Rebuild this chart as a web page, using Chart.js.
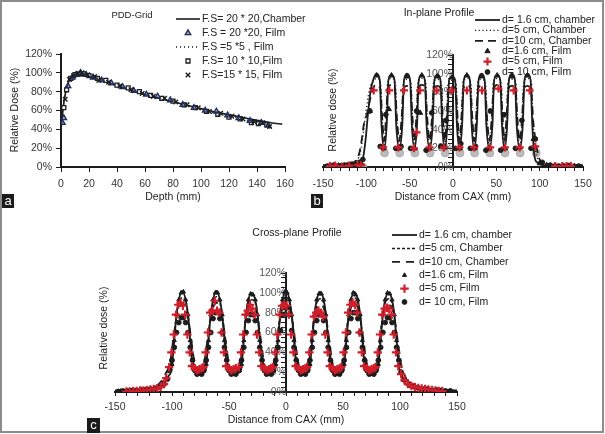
<!DOCTYPE html>
<html><head><meta charset="utf-8">
<script src="https://cdn.jsdelivr.net/npm/chart.js@4/dist/chart.umd.min.js"></script>
<style>
html,body{margin:0;padding:0;background:#fff;}
#fig{position:relative;width:605px;height:434px;overflow:hidden;font-family:"Liberation Sans",Arial,sans-serif;}
#frame{position:absolute;left:0;top:0;width:604px;height:433px;box-sizing:border-box;border:2px solid #8c8c8c;}
canvas{position:absolute;}
.tag{position:absolute;background:#1b1b1b;color:#fff;font-size:13px;line-height:14px;text-align:center;}
</style></head><body>
<div id="fig">
<div id="frame"></div>
<canvas id="ca" width="310" height="212" style="left:0;top:0"></canvas>
<canvas id="cb" width="298" height="212" style="left:305px;top:0"></canvas>
<canvas id="cc" width="440" height="220" style="left:95px;top:212px"></canvas>
<div class="tag" style="left:2px;top:194px;width:12px;height:14px">a</div>
<div class="tag" style="left:311px;top:194px;width:12px;height:14px">b</div>
<div class="tag" style="left:87px;top:418px;width:13px;height:15px">c</div>
</div>
<script>
// ---------- Panel a : PDD-Grid ----------
const pddDepth   = [0,1,2,3,4,6,8,10,12,14,16,20,25,30,40,50,60,70,80,90,100,110,120,130,140,150,158];
const pddChamber = [40,55,68,77,84,92,96,98.5,99.6,100,99.5,96.5,94,91.5,86.5,81.5,77,73,69.5,65.5,62,58.5,55.5,52.5,49.5,47,45.5];
const film20X = [1,2,5,8,11,14,18,23,29,36,44,52,61,69,78,87,95,103,111,119,127,135,143,148];
const film20Y = [47,52,86,95,98,100,98,95,92,89,85,81,77,75,71,66,63,60,59,55,52,49,47,44];
const film5X  = [1,3,6,9,12,16,21,26,32,39,47,55,63,71,79,87,95,103,111,119,127,135,143,149];
const film5Y  = [58,76,93,97,99,99,97,94,91,88,84,80,76,73,70,66,63,60,57,55,52,49,47,41];
const film10X = [2,4,7,10,13,16,20,26,32,40,48,56,64,72,80,88,96,104,112,120,128,136,141,147];
const film10Y = [63,82,94,98,99,99,97,94,92,87,84,80,76,73,70,66,63,59,56,53,51,47,46,45];
const film15X = [3,6,9,12,15,19,24,27,34,42,50,58,66,74,82,90,98,106,114,122,130,138,144,149];
const film15Y = [72,93,97,99,100,98,96,92,90,86,82,78,75,73,69,66,63,59,57,54,51,48,47,43];
const pddLabels = ['F.S= 20 * 20,Chamber','F.S = 20 *20, Film','F.S =5 *5 , Film','F.S= 10 * 10,Film','F.S=15 * 15, Film'];

// ---------- Panel b : In-plane profile ----------
const inX1 = [-150,-140,-130,-120,-112,-107,-104,-101,-98,-95,-91.5,-88,-84.5,-82.5,-79.5,
 -76.5,-74.5,-71,-67.5,-65.5,-62,
 -58.5,-56.5,-53,-49.5,-47.5,-44.5,
 -41.5,-39.5,-36,-32.5,-30.5,-27,
 -23.5,-21.5,-18,-14.5,-12.5,-9.5,
 -6.5,-4.5,-1,2.5,4.5,7.5,
 10.5,12.5,16,19.5,21.5,24.5,
 27.5,29.5,33,36.5,38.5,42,
 45.5,47.5,51,54.5,56.5,59.5,
 62.5,64.5,68,71.5,73.5,77,
 80.5,82.5,86,89.5,91.5,94,97,100,104,110,120,130,140,150];
const inY1 = [1.5,2,2.5,3,4,5,9,28,58,82,95,100,93,45,19,
 45,93,99,93,45,19,
 45,93,100,93,45,19,
 45,93,99,93,45,19,
 45,93,99,93,45,19,
 45,93,97,93,45,19,
 45,93,99,93,45,19,
 45,93,100,93,45,19,
 45,93,99,93,45,19,
 45,93,100,93,45,19,
 45,93,100,93,45,12,5,3,2,1.5,1.5,1.5,1.5,1.5];
const inX2 = [-150,-140,-130,-120,-113,-109,-106,-103,-100,-96,-92,-88,-83.5,-81.5,-79.5,
 -77.5,-75.5,-71,-66.5,-64.5,-62,
 -59.5,-57.5,-53,-48.5,-46.5,-44.5,
 -42.5,-40.5,-36,-31.5,-29.5,-27,
 -24.5,-22.5,-18,-13.5,-11.5,-9.5,
 -7.5,-5.5,-1,3.5,5.5,7.5,
 9.5,11.5,16,20.5,22.5,24.5,
 26.5,28.5,33,37.5,39.5,42,
 44.5,46.5,51,55.5,57.5,59.5,
 61.5,63.5,68,72.5,74.5,77,
 79.5,81.5,86,90.5,92.5,95,98,101,105,110,120,130,140,150];
const inY2 = [1.5,2,3,4,6,10,20,40,62,84,92,95,90,45,22,
 45,90,95,90,45,22,
 45,90,94,90,45,22,
 45,90,95,90,45,22,
 45,90,94,90,45,22,
 45,90,93,90,45,22,
 45,90,95,90,45,22,
 45,90,94,90,45,22,
 45,90,95,90,45,22,
 45,90,94,90,45,22,
 45,90,95,90,45,20,8,4,2.5,2,2,2,2,2];
const inX3 = [-150,-140,-130,-120,-113,-109,-106,-103,-99,-95,-92,-88,-84,-81.5,-79.5,
 -77.5,-75,-71,-67,-64.5,-62,
 -59.5,-57,-53,-49,-46.5,-44.5,
 -42.5,-40,-36,-32,-29.5,-27,
 -24.5,-22,-18,-14,-11.5,-9.5,
 -7.5,-5,-1,3,5.5,7.5,
 9.5,12,16,20,22.5,24.5,
 26.5,29,33,37,39.5,42,
 44.5,47,51,55,57.5,59.5,
 61.5,64,68,72,74.5,77,
 79.5,82,86,90,92.5,95,98,101,104,108,115,125,135,150];
const inY3 = [2,2.5,3,4,6,12,25,45,58,75,85,88,84,50,28,
 50,84,88,84,50,28,
 50,84,87,84,50,28,
 50,84,88,84,50,28,
 50,84,87,84,50,28,
 50,84,86,84,50,28,
 50,84,88,84,50,28,
 50,84,87,84,50,28,
 50,84,88,84,50,28,
 50,84,87,84,50,28,
 50,84,87,84,50,30,14,6,3,2.5,2,2,2,2];
const inTriX = [-142,-132,-122,-112,-106,-96,-88,-80,-74,-71,-62,-53,-44,-38,-36,-27,-18,-9,-1,8,16,25,33,42,51,60,68,77,86,93,100,108,118,128,140];
const inTriY = [1,1.5,2,2.5,4,60,98,20,62,98,20,97,20,58,98,20,97,21,96,20,98,20,97,20,98,20,97,21,98,30,4,2,1.5,1,1];
const inRedX = [-142,-136,-128,-120,-110,-106,-91.5,-80.5,-73.5,-63,-56.5,-45,-42,-38,-27,-19,-10.5,-1.5,7.5,16,24.5,33.5,43,52.5,60,70,77,88.5,95,118,126,131,136];
const inRedY = [1,1.5,0.5,1.5,2,2,82,21,82,21,82,20,37,82,21,82,21,82,21,82,21,82,21,84,21,82,21,82,22,1,1,1,1];
const inDotX = [-145,-138,-130,-125,-117,-108,-104,-96,-84,-77.5,-66,-60,-49,-42,-31,-24.5,-14,-8,3,9,20,26,38,43,55,59,72,79.5,90,95,103,112,122,133,145];
const inDotY = [1,2,1,2,3,5,8,60,22,56,20,22,20,60,18,58,22,50,20,25,20,22,18,60,18,56,20,50,20,30,5,2,1,1.5,1];
const inGrayX = [-125,-104,-79,-61.5,-44,-26.5,-9,8,25,42.5,60,77.5,96,114,135];
const inGrayY = [0,0,15,15,15,15,15,15,15,15,15,15,15,0,0];

// ---------- Panel c : Cross-plane profile ----------
const crX1 = [-150,-140,-130,-120,-112,-108,-105,-102.5,
 -101,-99.5,-98,-96,-94,-91,-88,-86,-84,-82.5,-81,-76,
 -71,-69.5,-68,-66,-64,-61,-58,-56,-54,-52.5,-51,-45.5,
 -40,-38.5,-37,-35,-33,-30,-27,-25,-23,-21.5,-20,-15,
 -10,-8.5,-7,-5,-3,0,3,5,7,8.5,10,15,
 20,21.5,23,25,27,30,33,35,37,38.5,40,45,
 50,51.5,53,55,57,60,63,65,67,68.5,70,75,
 80,81.5,83,85,87,90,93,95,97,98.5,100,102.5,105,109,115,125,135,145,150];
const crY1 = [1,1.5,2,3,5,8,12,17,
 20,32,52,78,93,102,93,78,52,32,20,19,
 20,32,52,78,93,102,93,78,52,32,20,19,
 20,32,52,78,93,100,93,78,52,32,20,19,
 20,32,52,78,93,103,93,78,52,32,20,19,
 20,32,52,78,93,101,93,78,52,32,20,19,
 20,32,52,78,93,101,93,78,52,32,20,19,
 20,32,52,78,93,100,93,78,52,32,20,13,8,5,3,2,1.5,1,1];
const crX2 = [-150,-140,-130,-120,-113,-109,-106,-104,
 -102,-100.5,-98.5,-96.5,-94,-91,-88,-85.5,-83.5,-81.5,-80,-76,
 -72,-70.5,-68.5,-66.5,-64,-61,-58,-55.5,-53.5,-51.5,-50,-45.5,
 -41,-39.5,-37.5,-35.5,-33,-30,-27,-24.5,-22.5,-20.5,-19,-15,
 -11,-9.5,-7.5,-5.5,-3,0,3,5.5,7.5,9.5,11,15,
 19,20.5,22.5,24.5,27,30,33,35.5,37.5,39.5,41,45,
 49,50.5,52.5,54.5,57,60,63,65.5,67.5,69.5,71,75,
 79,80.5,82.5,84.5,87,90,93,95.5,97.5,99.5,101,103.5,106,110,116,125,135,145,150];
const crY2 = [1,1.5,2,3,5,9,14,19,
 22,33,52,75,90,95,90,75,52,33,22,21,
 22,33,52,75,90,96,90,75,52,33,22,21,
 22,33,52,75,90,93,90,75,52,33,22,21,
 22,33,52,75,90,96,90,75,52,33,22,21,
 22,33,52,75,90,94,90,75,52,33,22,21,
 22,33,52,75,90,95,90,75,52,33,22,21,
 22,33,52,75,90,94,90,75,52,33,20,14,9,6,4,3,2,1.5,1];
const crX3 = [-150,-140,-130,-120,-114,-110,-107,-105,
 -103,-101,-99,-96.5,-94,-91,-88,-85.5,-83,-81,-79,-76,
 -73,-71,-69,-66.5,-64,-61,-58,-55.5,-53,-51,-49,-45.5,
 -42,-40,-38,-35.5,-33,-30,-27,-24.5,-22,-20,-18,-15,
 -12,-10,-8,-5.5,-3,0,3,5.5,8,10,12,15,
 18,20,22,24.5,27,30,33,35.5,38,40,42,45,
 48,50,52,54.5,57,60,63,65.5,68,70,72,75,
 78,80,82,84.5,87,90,93,95.5,98,100,102,104.5,107,111,117,125,135,145,150];
const crY3 = [1.5,2,3,4,6,10,15,20,
 24,35,52,72,85,89,85,72,52,35,24,23,
 24,35,52,72,85,90,85,72,52,35,24,23,
 24,35,52,72,85,88,85,72,52,35,24,23,
 24,35,52,72,85,90,85,72,52,35,24,23,
 24,35,52,72,85,88,85,72,52,35,24,23,
 24,35,52,72,85,89,85,72,52,35,24,23,
 24,35,52,72,85,88,85,72,52,35,22,16,10,7,5,3.5,2.5,2,1.5];
const crTriX = [-145,-135,-125,-115,-108,
 -100,-98,-96,-94,-92,-90,-88,-86,-84,-82,-78,-74,
 -70,-68,-66,-64,-62,-60,-58,-56,-54,-52,-48,-44,
 -39,-37,-35,-33,-31,-29,-27,-25,-23,-21,-17,-13,
 -9,-7,-5,-3,-1,1,3,5,7,9,13,17,
 21,23,25,27,29,31,33,35,37,39,43,47,
 51,53,55,57,59,61,63,65,67,69,73,77,
 81,83,85,87,89,91,93,95,97,99,103,108,115,125,135,145];
const crTriY = [1,1.5,2.5,4,7,
 28,52,78,93,100,101,93,78,52,28,19,20,
 28,52,78,93,100,100,93,78,52,28,19,20,
 28,52,78,93,99,98,93,78,52,28,19,20,
 28,52,78,93,101,100,93,78,52,28,19,20,
 28,52,78,93,99,99,93,78,52,28,19,20,
 28,52,78,93,100,98,93,78,52,28,19,20,
 28,52,78,93,100,99,93,78,52,28,12,6,4,2.5,1.5,1];
const crRedX = [-140,-137,-134,-131,-128,-125,-122,-119,-116,-113,-110,-107,-105,
 -102.5,-100.5,-98.5,-96.5,-94.5,-92.5,-90.5,-88.5,-86.5,-84.5,-82.5,-80,-78,-76,-74,
 -72.5,-70.5,-68.5,-66.5,-64.5,-62.5,-60.5,-58.5,-56.5,-54.5,-52.5,-50,-48,-46,-44,
 -41.5,-39.5,-37.5,-35.5,-33.5,-31.5,-29.5,-27.5,-25.5,-23.5,-21.5,-19,-17,-15,-13,
 -11.5,-9.5,-7.5,-5.5,-3.5,-1.5,0.5,2.5,4.5,6.5,8.5,11,13,15,17,
 18.5,20.5,22.5,24.5,26.5,28.5,30.5,32.5,34.5,36.5,38.5,41,43,45,47,
 48.5,50.5,52.5,54.5,56.5,58.5,60.5,62.5,64.5,66.5,68.5,71,73,75,77,
 78.5,80.5,82.5,84.5,86.5,88.5,90.5,92.5,94.5,96.5,98.5,101,104,107,110,113,116,119,122,125,128,131,134,137];
const crRedY = [0.5,0.5,1,1,1.5,1.5,2,2.5,3,3.5,5,8,14,
 25,40,58,78,88,90,87,78,58,40,26,24,22,23,24,
 25,40,60,80,82,92,82,80,60,40,26,24,22,23,24,
 25,40,58,78,82,88,84,78,58,40,26,24,22,23,24,
 25,40,58,78,87,88,87,78,58,40,26,24,22,23,24,
 25,40,58,76,80,82,80,76,58,40,26,24,22,23,24,
 25,40,60,80,88,90,88,80,60,40,26,24,22,23,24,
 25,40,58,78,84,85,84,78,58,40,26,18,12,8,6,5,4,3.5,3,2.5,2,1.5,1,1];
const crDotX = [-147,-143,-139,-135,-131,-127,-123,-119,-115,-111,-107,-104,
 -102,-100,-98,-96,-94,-92,-90,-88,-86,-84,-82,-80,-78,-76,-74,
 -72,-70,-68,-66,-64,-62,-60,-58,-56,-54,-52,-50,-48,-46,-44,
 -41,-39,-37,-35,-33,-31,-29,-27,-25,-23,-21,-19,-17,-15,-13,
 -11,-9,-7,-5,-3,-1,1,3,5,7,9,11,13,15,17,
 19,21,23,25,27,29,31,33,35,37,39,41,43,45,47,
 49,51,53,55,57,59,61,63,65,67,69,71,73,75,77,
 79,81,83,85,87,89,91,93,95,97,99,101,104,108,112,116,120,124,128,132,136,140,144];
const crDotY = [0.5,1,1,1.5,1.5,2,2,3,3.5,5,8,13,
 22,32,45,60,70,75,75,70,60,45,32,22,18,19,18,
 22,32,45,60,74,80,80,74,60,45,32,22,18,19,18,
 22,32,45,60,72,78,78,72,60,45,32,22,18,19,18,
 22,32,45,62,78,85,85,78,62,45,32,22,18,19,18,
 22,32,45,60,72,78,78,72,60,45,32,22,18,19,18,
 22,32,45,60,74,80,80,74,60,45,32,22,18,19,18,
 22,32,45,60,70,75,75,70,60,45,32,20,12,8,6,4,3,3,2,2,1.5,1,1];
const profLabels = ['d= 1.6 cm, chamber','d=5 cm, Chamber','d=10 cm, Chamber','d=1.6 cm, Film','d=5 cm, Film','d= 10 cm, Film'];

const yTicksPDD = [0,20,40,60,80,100,120];

// ---------- helpers ----------
const FONT = '"Liberation Sans", Arial, Helvetica, sans-serif';
Chart.defaults.font.family = FONT;
Chart.defaults.font.size = 10.5;
Chart.defaults.color = '#333';
Chart.defaults.animation = false;
const pts = (xs, ys) => xs.map((x, i) => ({x: x, y: ys[i]}));
const RED = '#d01f2a', INK = '#1c1c1c';

function lineDS(label, xs, ys, dash, width, order) {
  return {label, data: pts(xs, ys), showLine: true, borderColor: INK, borderWidth: width,
    borderDash: dash, pointRadius: 0, pointHoverRadius: 0, fill: false,
    cubicInterpolationMode: 'monotone', order};
}
function markDS(label, xs, ys, style, r, fill, stroke, bw, order) {
  return {label, data: pts(xs, ys), showLine: false, pointStyle: style, pointRadius: r,
    pointBackgroundColor: fill, pointBorderColor: stroke, pointBorderWidth: bw,
    backgroundColor: fill, borderColor: stroke, order};
}

const overlay = {
  id: 'overlay',
  afterDraw(chart, args, o) {
    const ctx = chart.ctx;
    ctx.save();
    ctx.textBaseline = 'middle';
    ctx.fillStyle = '#222';
    ctx.font = (o.titleSize || 10.5) + 'px ' + FONT;
    ctx.textAlign = 'center';
    ctx.fillText(o.title, o.titleX, o.titleY);
    ctx.save();
    ctx.translate(o.yTitleX, o.yTitleY);
    ctx.rotate(-Math.PI / 2);
    ctx.font = '10.5px ' + FONT;
    ctx.fillText(o.yTitle, 0, 0);
    ctx.restore();
    ctx.font = '10.5px ' + FONT;
    let row = 0;
    chart.data.datasets.forEach(ds => {
      if (!ds.label) return;
      const y = o.legY + row * o.legDy; row++;
      const x0 = o.legX, w = o.legW;
      ctx.save();
      if (ds.showLine) {
        ctx.strokeStyle = ds.borderColor; ctx.lineWidth = ds.borderWidth;
        ctx.setLineDash(ds.borderDash || []);
        ctx.beginPath(); ctx.moveTo(x0, y); ctx.lineTo(x0 + w, y); ctx.stroke();
      } else {
        ctx.fillStyle = ds.pointBackgroundColor; ctx.strokeStyle = ds.pointBorderColor;
        ctx.lineWidth = ds.pointBorderWidth; ctx.setLineDash([]);
        Chart.helpers.drawPoint(ctx, {pointStyle: ds.pointStyle, radius: ds.pointRadius,
          borderWidth: ds.pointBorderWidth, rotation: 0}, x0 + w / 2, y);
      }
      ctx.restore();
      ctx.fillStyle = '#222'; ctx.textAlign = 'left';
      ctx.fillText(ds.label, x0 + w + 2, y);
    });
    ctx.restore();
  }
};

function profileScales(tl, pad, titlePadB, xH) {
  return {
    x: {type: 'linear', min: -150, max: 150,
      ticks: {stepSize: 10, autoSkip: false, maxRotation: 0, padding: pad, color: '#333',
        callback: v => (v % 50 === 0 ? String(v) : '')},
      grid: {drawOnChartArea: false, drawTicks: true, tickLength: tl, color: INK, lineWidth: 1},
      border: {color: INK, width: 2},
      title: {display: true, text: 'Distance from CAX (mm)', color: '#222', font: {size: 10.5}, padding: {top: 0, bottom: titlePadB}},
      afterFit(s) { s.height = xH; }},
    y: {type: 'linear', min: 0, max: 120, position: {x: 0},
      ticks: {stepSize: 5, autoSkip: false, padding: 4, color: '#555',
        callback: v => (v % 20 === 0 ? v + '%' : '')},
      grid: {drawOnChartArea: false, drawTicks: true, tickLength: 4, color: INK, lineWidth: 1},
      border: {color: INK, width: 2}}
  };
}

// ---------- Chart a ----------
new Chart(document.getElementById('ca'), {
  type: 'scatter',
  data: {datasets: [
    lineDS(pddLabels[0], pddDepth, pddChamber, [], 1.6, 5),
    markDS(pddLabels[1], film20X, film20Y, 'triangle', 3.2, 'rgba(70,90,150,0.55)', '#1d2a5a', 1.3, 2),
    lineDS(pddLabels[2], film5X, film5Y, [1, 3], 1.5, 4),
    markDS(pddLabels[3], film10X, film10Y, 'rect', 2.8, '#ffffff', INK, 1.3, 3),
    markDS(pddLabels[4], film15X, film15Y, 'crossRot', 3.2, INK, INK, 1.4, 1)
  ]},
  options: {
    responsive: false, animation: false,
    layout: {padding: {left: 0, top: 54, right: 25, bottom: 0}},
    plugins: {legend: {display: false}, tooltip: {enabled: false},
      overlay: {title: 'PDD-Grid', titleSize: 9.5, titleX: 132, titleY: 15,
        yTitle: 'Relative Dose (%)', yTitleX: 15, yTitleY: 110,
        legX: 176, legW: 24, legY: 19, legDy: 14}},
    scales: {
      x: {type: 'linear', min: 0, max: 160,
        ticks: {stepSize: 20, padding: 6, color: '#333', maxRotation: 0},
        grid: {drawOnChartArea: false, tickLength: 5, color: INK},
        border: {color: INK, width: 2, dash: [2, 2]},
        title: {display: true, text: 'Depth (mm)', color: '#222', font: {size: 10.5}, padding: {top: 0, bottom: 9}},
        afterFit(s) { s.height = 45; }},
      y: {type: 'linear', min: 0, max: 120,
        afterBuildTicks(s) { s.ticks = yTicksPDD.map(v => ({value: v})); },
        ticks: {padding: 4, color: '#333', callback: v => v + '%'},
        grid: {drawOnChartArea: false, tickLength: 5, color: INK},
        border: {color: INK, width: 2},
        afterFit(s) { s.width = 61; }}
    }
  },
  plugins: [overlay]
});

// ---------- Chart b ----------
new Chart(document.getElementById('cb'), {
  type: 'scatter',
  data: {datasets: [
    lineDS(profLabels[0], inX1, inY1, [], 1.8, 6),
    lineDS(profLabels[1], inX2, inY2, [1.2, 2.5], 1.4, 7),
    lineDS(profLabels[2], inX3, inY3, [8, 5], 1.8, 8),
    markDS(profLabels[3], inTriX, inTriY, 'triangle', 3, INK, INK, 1, 3),
    markDS(profLabels[4], inRedX, inRedY, 'cross', 4, RED, RED, 2.2, 1),
    markDS(profLabels[5], inDotX, inDotY, 'circle', 2.4, INK, INK, 1, 2),
    markDS('', inGrayX, inGrayY, 'circle', 4, 'rgba(170,170,170,0.8)', 'rgba(170,170,170,0.8)', 1, 10)
  ]},
  options: {
    responsive: false, animation: false,
    layout: {padding: {left: 18, top: 55, right: 20, bottom: 0}},
    plugins: {legend: {display: false}, tooltip: {enabled: false},
      overlay: {title: 'In-plane Profile', titleX: 134, titleY: 13,
        yTitle: 'Relative dose (%)', yTitleX: 28, yTitleY: 110,
        legX: 170, legW: 25, legY: 20, legDy: 10.4}},
    scales: profileScales(4, 7, 9, 45)
  },
  plugins: [overlay]
});

// ---------- Chart c ----------
new Chart(document.getElementById('cc'), {
  type: 'scatter',
  data: {datasets: [
    lineDS(profLabels[0], crX1, crY1, [], 1.8, 6),
    lineDS(profLabels[1], crX2, crY2, [3, 2], 1.5, 7),
    lineDS(profLabels[2], crX3, crY3, [8, 6], 1.8, 8),
    markDS(profLabels[3], crTriX, crTriY, 'triangle', 2.4, INK, INK, 1, 3),
    markDS(profLabels[4], crRedX, crRedY, 'cross', 4.2, RED, RED, 2.2, 1),
    markDS(profLabels[5], crDotX, crDotY, 'circle', 2.4, INK, INK, 1, 2)
  ]},
  options: {
    responsive: false, animation: false,
    layout: {padding: {left: 20, top: 61, right: 78, bottom: 0}},
    plugins: {legend: {display: false}, tooltip: {enabled: false},
      overlay: {title: 'Cross-plane Profile', titleX: 202, titleY: 21,
        yTitle: 'Relative dose (%)', yTitleX: 9, yTitleY: 116,
        legX: 297, legW: 25, legY: 23, legDy: 13.4}},
    scales: profileScales(4, 5, 6, 40)
  },
  plugins: [overlay]
});
</script>
</body></html>
